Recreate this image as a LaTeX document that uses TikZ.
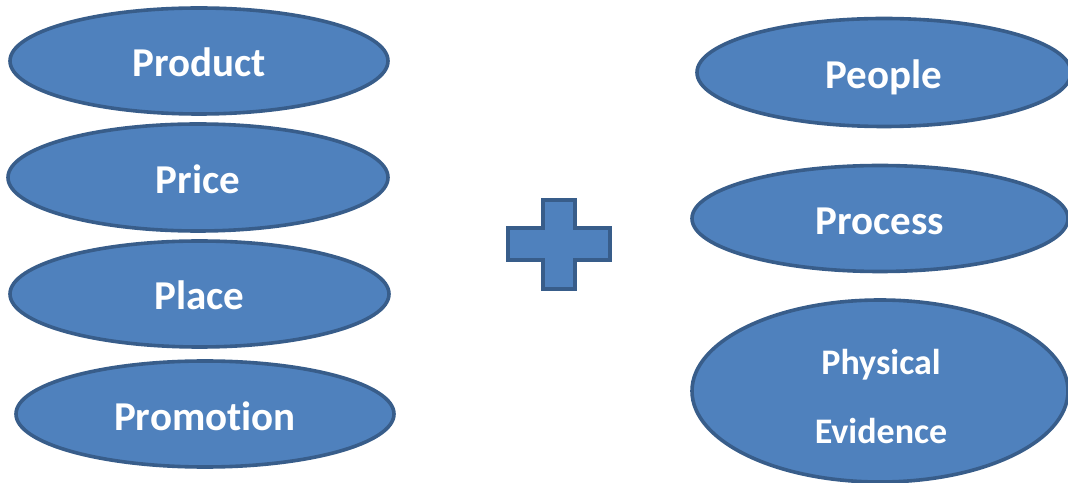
\documentclass[tikz,border=0pt]{standalone}
\usepackage{fontspec}
\setmainfont[Ligatures=NoCommon]{Carlito}
\usetikzlibrary{shapes.geometric}
\definecolor{fillblue}{HTML}{4F81BD}
\definecolor{edgeblue}{HTML}{385D8A}
\tikzset{
  oval/.style={ellipse, draw=edgeblue, fill=fillblue, line width=3.6pt, inner sep=0pt,
    text=white, font=\bfseries\fontsize{41}{48}\selectfont, text height=32pt, text depth=0pt},
  smalltext/.style={text=white, font=\bfseries\fontsize{36}{44}\selectfont, anchor=base, inner sep=0pt},
}
\begin{document}
\begin{tikzpicture}[x=1pt,y=1pt]
\useasboundingbox (0,0) rectangle (1068,482);
\fill[white] (0,0) rectangle (1068,482);
% left column
\node[oval, minimum width=378pt, minimum height=106pt] (product) at (199,421) {Product};
\node[oval, minimum width=380pt, minimum height=107pt] (price) at (198,304.5) {Price};
\node[oval, minimum width=379pt, minimum height=106pt] (place) at (199.5,188) {Place};
\node[oval, minimum width=378pt, minimum height=106pt] (promotion) at (205,68) {Promotion};
% plus sign
\draw[draw=edgeblue, fill=fillblue, line width=3.6pt, line join=miter]
  (543,282) -- (575,282) -- (575,254) -- (610,254) -- (610,222) -- (575,222)
  -- (575,193) -- (543,193) -- (543,222) -- (508,222) -- (508,254) -- (543,254) -- cycle;
% right column
\node[oval, minimum width=374pt, minimum height=108pt] (people) at (884,409.5) {People};
\node[oval, minimum width=376pt, minimum height=106pt] (process) at (880,263.5) {Process};
\node[oval, minimum width=376pt, minimum height=182pt] (physical) at (880,91) {};
\node[smalltext] (physical1) at (881,107) {Physical};
\node[smalltext] (physical2) at (881,39) {Evidence};
\end{tikzpicture}
\end{document}
